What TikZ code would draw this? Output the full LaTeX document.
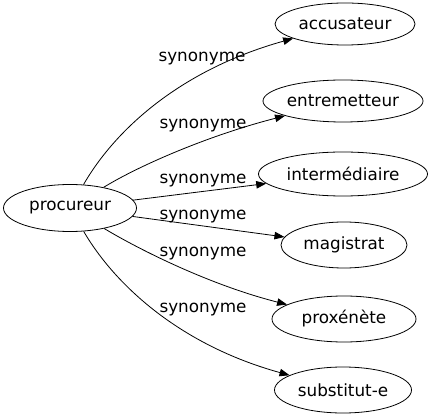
\documentclass[tikz,border=0pt]{standalone}
\usepackage{fontspec}
\setmainfont{DejaVu Sans}
\usetikzlibrary{shapes.geometric,arrows.meta}
\begin{document}
\begin{tikzpicture}[x=1pt,y=-1pt,
  word/.style={draw,ellipse,inner sep=0pt,line width=0.8pt,font=\fontsize{16.8}{20}\selectfont},
  lbl/.style={anchor=base,inner sep=0pt,font=\fontsize{16.8}{20}\selectfont},
  syn/.style={draw,line width=0.8pt,-{Triangle[length=10pt,width=7.5pt]}}]
\useasboundingbox (0,0) rectangle (433,419);
\node[word,minimum width=133pt,minimum height=47pt] (procureur) at (70,208) {procureur};
\node[word,minimum width=140pt,minimum height=42pt] (accusateur) at (345,24) {accusateur};
\node[word,minimum width=160pt,minimum height=42pt] (entremetteur) at (343,101) {entremetteur};
\node[word,minimum width=169pt,minimum height=44pt] (intermediaire) at (343,174) {intermédiaire};
\node[word,minimum width=126pt,minimum height=46pt] (magistrat) at (344,245) {magistrat};
\node[word,minimum width=144pt,minimum height=46pt] (proxenete) at (344,319) {proxénète};
\node[word,minimum width=137pt,minimum height=46pt] (substitut) at (343,390) {substitut-e};
\node[lbl] (l1) at (202,61.7) {synonyme};
\node[lbl] (l2) at (203,129) {synonyme};
\node[lbl] (l3) at (203,184) {synonyme};
\node[lbl] (l4) at (203,220) {synonyme};
\node[lbl] (l5) at (203,257) {synonyme};
\node[lbl] (l6) at (203,312) {synonyme};
\draw[syn] (procureur) .. controls (115,130) and (180,70) .. (accusateur);
\draw[syn] (procureur) .. controls (140,165) and (210,135) .. (entremetteur);
\draw[syn] (procureur) -- (intermediaire);
\draw[syn] (procureur) -- (magistrat);
\draw[syn] (procureur) .. controls (140,250) and (210,285) .. (proxenete);
\draw[syn] (procureur) .. controls (115,285) and (180,345) .. (substitut);
\end{tikzpicture}
\end{document}
